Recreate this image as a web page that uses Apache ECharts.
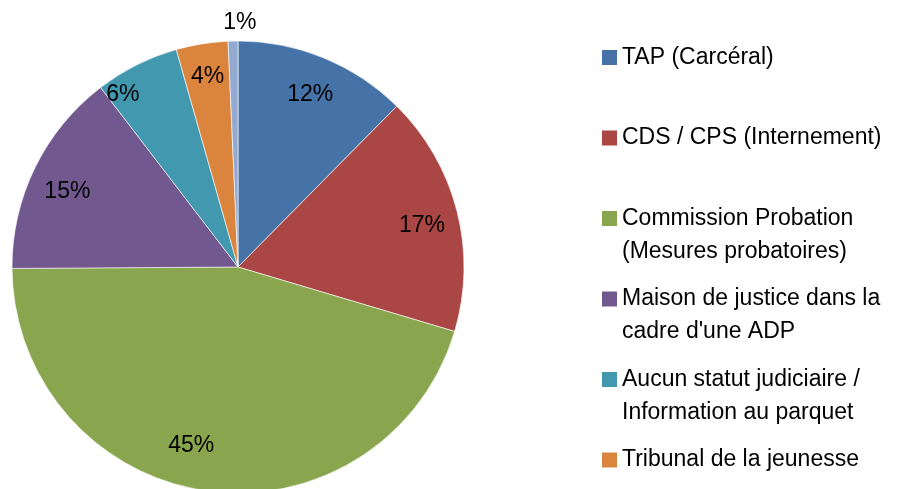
<!DOCTYPE html>
<html>
<head>
<meta charset="utf-8">
<script src="https://cdn.jsdelivr.net/npm/echarts@6/dist/echarts.min.js"></script>
<style>
  html, body { margin: 0; padding: 0; background: #fff; }
  #main { width: 898px; height: 489px; }
</style>
</head>
<body>
<div id="main"></div>
<script>
// categories, in the order of the slices (clockwise from the top)
var categories = [
  'TAP (Carcéral)',
  'CDS / CPS (Internement)',
  'Commission Probation\n(Mesures probatoires)',
  "Maison de justice dans la\ncadre d'une ADP",
  'Aucun statut judiciaire /\nInformation au parquet',
  'Tribunal de la jeunesse',
  'Autre'
];
// share of each category, in %
var shares = [12.4, 17.2, 45.3, 14.7, 6.0, 3.7, 0.7];
var colors = ['#4572A7', '#AA4643', '#89A54E', '#71588F', '#4198AF', '#DB843D', '#93A9CF'];
// only the first six entries are visible in the legend
var legendNames = categories.slice(0, 6);

var font = 'Liberation Sans, Arial, sans-serif';
var pieData = categories.map(function (c, i) {
  return { name: c, value: shares[i] };
});

// small nudges of the labels, like Excel's best fit
var labelNudge = {
  0: { dy: 3 },
  1: { dy: 6 },
  2: { dx: -20, dy: -9 },
  3: { dy: 8 },
  4: { dx: -30, dy: -3 },
  5: { dy: -3 },
  6: { dx: 6, dy: -54 }
};

var chartDom = document.getElementById('main');
var myChart = echarts.init(chartDom, null, { renderer: 'canvas' });
var option;

option = {
  animation: false,
  color: colors,
  legend: {
    orient: 'vertical',
    left: 602,
    top: 8,
    height: 800,
    padding: 0,
    itemWidth: 15,
    itemHeight: 15,
    itemGap: -18.5,
    icon: 'rect',
    itemStyle: { borderWidth: 0 },
    data: legendNames,
    // pad every entry to three lines so the square sits on the first line
    formatter: function (name) {
      var lines = name.split('\n');
      while (lines.length < 2) lines.push(' ');
      return ' \n' + lines.join('\n');
    },
    textStyle: {
      fontFamily: font,
      fontSize: 23,
      lineHeight: 33,
      color: '#000'
    }
  },
  series: [
    {
      name: 'statut',
      type: 'pie',
      center: [238, 267],
      radius: [0, 226],
      startAngle: 90,
      clockwise: true,
      label: { show: false },
      labelLine: { show: false },
      itemStyle: { borderColor: '#fff', borderWidth: 0.6 },
      emphasis: { scale: false },
      data: pieData
    },
    {
      // transparent ring that carries the percentage labels
      name: 'labels',
      type: 'pie',
      center: [238, 267],
      radius: [148, 226],
      startAngle: 90,
      clockwise: true,
      silent: true,
      percentPrecision: 0,
      itemStyle: { color: 'transparent', borderWidth: 0 },
      label: {
        show: true,
        position: 'inside',
        formatter: '{d}%',
        fontFamily: font,
        fontSize: 23,
        color: '#000'
      },
      labelLine: { show: false },
      labelLayout: function (params) {
        var n = labelNudge[params.dataIndex] || {};
        return { dx: n.dx || 0, dy: n.dy || 0 };
      },
      emphasis: { disabled: true },
      data: pieData
    }
  ]
};

option && myChart.setOption(option);
</script>
</body>
</html>
